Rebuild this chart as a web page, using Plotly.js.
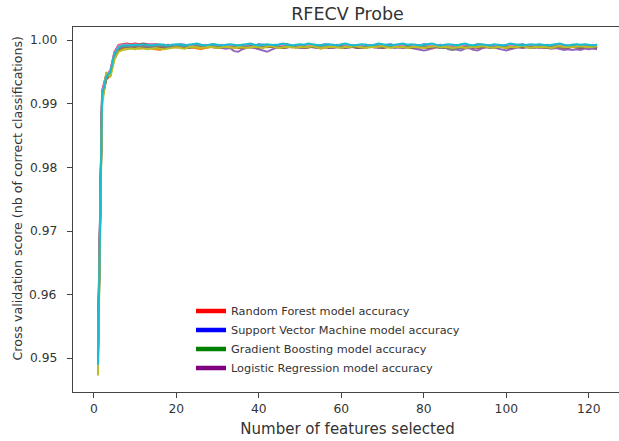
<!DOCTYPE html>
<html>
<head>
<meta charset="utf-8">
<script src="https://cdn.plot.ly/plotly-3.0.1.min.js"></script>
<style>
html, body { margin: 0; padding: 0; overflow: hidden; background: #fff; }
#chart { width: 625px; height: 441px; }
</style>
</head>
<body>
<div id="chart"></div>
<script>
const features = [1,2,3,4,5,6,7,8,9,10,11,12,13,14,15,16,17,18,19,20,
21,22,23,24,25,26,27,28,29,30,31,32,33,34,35,36,37,38,39,40,
41,42,43,44,45,46,47,48,49,50,51,52,53,54,55,56,57,58,59,60,
61,62,63,64,65,66,67,68,69,70,71,72,73,74,75,76,77,78,79,80,
81,82,83,84,85,86,87,88,89,90,91,92,93,94,95,96,97,98,99,100,
101,102,103,104,105,106,107,108,109,110,111,112,113,114,115,116,117,118,119,120,121,122];

const fold0 = [0.9530,0.9915,0.9940,0.9950,0.9978,0.9988,0.9991,
0.9992,0.9993,0.9992,0.9991,0.9993,0.9992,0.9994,0.9993,0.9992,0.9993,
0.9991,0.9992,0.9993,0.9994,0.9993,0.9992,0.9991,0.9992,0.9993,0.9992,
0.9993,0.9994,0.9992,0.9991,0.9992,0.9993,0.9992,0.9990,0.9991,0.9992,
0.9993,0.9992,0.9994,0.9993,0.9992,0.9991,0.9993,0.9992,0.9993,0.9994,
0.9992,0.9991,0.9992,0.9993,0.9992,0.9993,0.9991,0.9992,0.9994,0.9993,
0.9992,0.9993,0.9991,0.9992,0.9993,0.9992,0.9990,0.9991,0.9993,0.9992,
0.9993,0.9992,0.9991,0.9993,0.9994,0.9992,0.9993,0.9992,0.9991,0.9992,
0.9993,0.9992,0.9994,0.9993,0.9991,0.9992,0.9993,0.9992,0.9991,0.9993,
0.9992,0.9993,0.9992,0.9991,0.9992,0.9994,0.9993,0.9992,0.9991,0.9992,
0.9993,0.9992,0.9991,0.9993,0.9992,0.9993,0.9994,0.9992,0.9991,0.9992,
0.9993,0.9992,0.9993,0.9991,0.9992,0.9993,0.9992,0.9991,0.9992,0.9993,
0.9992,0.9993,0.9991,0.9992,0.9993];

const fold1 = [0.9498,0.9905,0.9938,0.9945,0.9972,0.9984,0.9988,
0.9989,0.9988,0.9989,0.9987,0.9988,0.9989,0.9987,0.9986,0.9985,0.9987,
0.9988,0.9989,0.9990,0.9989,0.9988,0.9990,0.9989,0.9988,0.9986,0.9988,
0.9989,0.9990,0.9989,0.9988,0.9990,0.9991,0.9989,0.9988,0.9989,0.9990,
0.9989,0.9988,0.9990,0.9989,0.9991,0.9990,0.9989,0.9988,0.9990,0.9989,
0.9990,0.9991,0.9989,0.9988,0.9989,0.9990,0.9989,0.9987,0.9989,0.9990,
0.9991,0.9989,0.9990,0.9988,0.9989,0.9990,0.9991,0.9989,0.9988,0.9990,
0.9989,0.9990,0.9988,0.9989,0.9991,0.9990,0.9989,0.9988,0.9989,0.9990,
0.9989,0.9988,0.9990,0.9989,0.9987,0.9989,0.9990,0.9991,0.9989,0.9988,
0.9990,0.9989,0.9988,0.9990,0.9991,0.9989,0.9988,0.9989,0.9990,0.9989,
0.9988,0.9990,0.9989,0.9991,0.9990,0.9989,0.9988,0.9990,0.9989,0.9990,
0.9989,0.9988,0.9990,0.9989,0.9991,0.9989,0.9988,0.9989,0.9990,0.9989,
0.9990,0.9989,0.9988,0.9989,0.9990];

const fold2 = [0.9512,0.9912,0.9942,0.9948,0.9975,0.9987,0.9990,
0.9990,0.9991,0.9990,0.9992,0.9991,0.9990,0.9991,0.9992,0.9991,0.9990,
0.9991,0.9992,0.9991,0.9990,0.9992,0.9991,0.9993,0.9991,0.9990,0.9991,
0.9992,0.9991,0.9990,0.9991,0.9992,0.9991,0.9990,0.9992,0.9993,0.9991,
0.9990,0.9991,0.9992,0.9991,0.9990,0.9992,0.9991,0.9990,0.9991,0.9992,
0.9991,0.9990,0.9992,0.9991,0.9993,0.9991,0.9990,0.9991,0.9992,0.9991,
0.9990,0.9992,0.9991,0.9990,0.9991,0.9992,0.9991,0.9993,0.9991,0.9990,
0.9991,0.9992,0.9990,0.9991,0.9992,0.9991,0.9990,0.9992,0.9991,0.9993,
0.9991,0.9990,0.9991,0.9992,0.9991,0.9990,0.9992,0.9991,0.9990,0.9991,
0.9992,0.9991,0.9993,0.9991,0.9990,0.9991,0.9992,0.9991,0.9990,0.9992,
0.9991,0.9990,0.9991,0.9992,0.9991,0.9993,0.9991,0.9990,0.9991,0.9992,
0.9991,0.9990,0.9992,0.9991,0.9990,0.9991,0.9992,0.9991,0.9993,0.9991,
0.9990,0.9991,0.9992,0.9991,0.9990];

const fold3 = [0.9505,0.9920,0.9946,0.9952,0.9982,0.9993,0.9994,
0.9995,0.9994,0.9995,0.9994,0.9995,0.9994,0.9993,0.9994,0.9993,0.9992,
0.9993,0.9992,0.9991,0.9992,0.9991,0.9990,0.9991,0.9992,0.9991,0.9990,
0.9991,0.9990,0.9991,0.9992,0.9990,0.9989,0.9990,0.9991,0.9990,0.9991,
0.9990,0.9989,0.9991,0.9990,0.9991,0.9990,0.9989,0.9990,0.9991,0.9990,
0.9989,0.9990,0.9991,0.9990,0.9989,0.9990,0.9991,0.9990,0.9989,0.9990,
0.9991,0.9990,0.9989,0.9990,0.9991,0.9990,0.9988,0.9990,0.9991,0.9990,
0.9989,0.9990,0.9991,0.9990,0.9989,0.9990,0.9991,0.9989,0.9990,0.9991,
0.9990,0.9989,0.9990,0.9988,0.9990,0.9991,0.9990,0.9989,0.9990,0.9988,
0.9989,0.9990,0.9991,0.9990,0.9988,0.9990,0.9989,0.9990,0.9991,0.9990,
0.9989,0.9990,0.9988,0.9990,0.9991,0.9990,0.9989,0.9990,0.9991,0.9989,
0.9990,0.9991,0.9990,0.9989,0.9988,0.9990,0.9989,0.9988,0.9990,0.9989,
0.9988,0.9989,0.9988,0.9989,0.9988];

const fold4 = [0.9495,0.9910,0.9941,0.9949,0.9979,0.9990,0.9991,
0.9991,0.9990,0.9991,0.9990,0.9989,0.9990,0.9991,0.9990,0.9989,0.9990,
0.9991,0.9990,0.9989,0.9990,0.9991,0.9990,0.9989,0.9990,0.9989,0.9990,
0.9991,0.9989,0.9990,0.9988,0.9987,0.9988,0.9983,0.9982,0.9986,0.9988,
0.9989,0.9988,0.9986,0.9983,0.9982,0.9985,0.9988,0.9989,0.9988,0.9989,
0.9990,0.9989,0.9988,0.9989,0.9990,0.9989,0.9988,0.9989,0.9990,0.9989,
0.9988,0.9989,0.9990,0.9988,0.9989,0.9990,0.9989,0.9988,0.9989,0.9990,
0.9989,0.9988,0.9989,0.9990,0.9989,0.9988,0.9989,0.9988,0.9989,0.9988,
0.9987,0.9985,0.9984,0.9985,0.9988,0.9989,0.9988,0.9989,0.9988,0.9986,
0.9985,0.9984,0.9987,0.9988,0.9985,0.9984,0.9987,0.9989,0.9988,0.9989,
0.9987,0.9985,0.9984,0.9986,0.9988,0.9989,0.9988,0.9989,0.9988,0.9989,
0.9988,0.9989,0.9988,0.9987,0.9988,0.9986,0.9985,0.9986,0.9985,0.9986,
0.9985,0.9987,0.9986,0.9987,0.9986];

const fold5 = [0.9508,0.9908,0.9939,0.9946,0.9976,0.9986,0.9989,
0.9989,0.9990,0.9989,0.9990,0.9991,0.9990,0.9989,0.9990,0.9989,0.9988,
0.9989,0.9990,0.9989,0.9990,0.9989,0.9988,0.9989,0.9990,0.9991,0.9989,
0.9990,0.9989,0.9988,0.9989,0.9990,0.9989,0.9990,0.9989,0.9988,0.9989,
0.9990,0.9989,0.9988,0.9990,0.9989,0.9990,0.9991,0.9989,0.9988,0.9989,
0.9990,0.9989,0.9990,0.9988,0.9989,0.9990,0.9989,0.9990,0.9989,0.9988,
0.9989,0.9990,0.9988,0.9989,0.9990,0.9989,0.9988,0.9989,0.9990,0.9989,
0.9990,0.9989,0.9988,0.9989,0.9990,0.9991,0.9989,0.9990,0.9989,0.9988,
0.9989,0.9990,0.9989,0.9988,0.9989,0.9990,0.9989,0.9988,0.9989,0.9990,
0.9989,0.9988,0.9990,0.9989,0.9990,0.9988,0.9989,0.9990,0.9989,0.9988,
0.9989,0.9990,0.9989,0.9988,0.9989,0.9990,0.9989,0.9990,0.9988,0.9989,
0.9990,0.9989,0.9988,0.9989,0.9990,0.9989,0.9988,0.9989,0.9990,0.9989,
0.9988,0.9989,0.9990,0.9989,0.9988];

const fold6 = [0.9520,0.9918,0.9945,0.9953,0.9981,0.9992,0.9993,
0.9994,0.9993,0.9994,0.9993,0.9992,0.9993,0.9994,0.9993,0.9992,0.9993,
0.9992,0.9993,0.9992,0.9991,0.9992,0.9993,0.9992,0.9991,0.9992,0.9993,
0.9992,0.9991,0.9992,0.9993,0.9992,0.9991,0.9992,0.9991,0.9992,0.9993,
0.9992,0.9991,0.9992,0.9993,0.9991,0.9992,0.9991,0.9992,0.9993,0.9992,
0.9991,0.9992,0.9991,0.9992,0.9993,0.9992,0.9991,0.9992,0.9991,0.9992,
0.9993,0.9992,0.9991,0.9992,0.9993,0.9991,0.9992,0.9991,0.9992,0.9993,
0.9992,0.9991,0.9992,0.9991,0.9992,0.9993,0.9992,0.9991,0.9992,0.9991,
0.9992,0.9993,0.9991,0.9992,0.9991,0.9992,0.9993,0.9992,0.9991,0.9992,
0.9991,0.9992,0.9993,0.9992,0.9991,0.9992,0.9991,0.9992,0.9993,0.9991,
0.9992,0.9991,0.9992,0.9993,0.9992,0.9991,0.9992,0.9991,0.9992,0.9993,
0.9992,0.9991,0.9992,0.9991,0.9992,0.9993,0.9992,0.9991,0.9992,0.9991,
0.9992,0.9991,0.9992,0.9993,0.9992];

const fold7 = [0.9502,0.9911,0.9940,0.9948,0.9977,0.9987,0.9990,
0.9990,0.9991,0.9990,0.9989,0.9991,0.9990,0.9989,0.9990,0.9991,0.9990,
0.9989,0.9990,0.9991,0.9992,0.9990,0.9989,0.9990,0.9991,0.9990,0.9989,
0.9990,0.9991,0.9990,0.9989,0.9990,0.9988,0.9989,0.9990,0.9991,0.9990,
0.9991,0.9990,0.9989,0.9990,0.9991,0.9992,0.9990,0.9989,0.9990,0.9991,
0.9990,0.9989,0.9991,0.9990,0.9989,0.9990,0.9991,0.9990,0.9992,0.9990,
0.9989,0.9990,0.9991,0.9990,0.9989,0.9991,0.9990,0.9989,0.9990,0.9991,
0.9990,0.9991,0.9989,0.9990,0.9991,0.9990,0.9989,0.9990,0.9991,0.9990,
0.9989,0.9990,0.9991,0.9990,0.9989,0.9990,0.9988,0.9989,0.9986,0.9985,
0.9987,0.9989,0.9990,0.9991,0.9990,0.9989,0.9990,0.9991,0.9990,0.9989,
0.9990,0.9991,0.9990,0.9989,0.9990,0.9991,0.9992,0.9990,0.9989,0.9990,
0.9991,0.9990,0.9989,0.9990,0.9991,0.9990,0.9989,0.9990,0.9991,0.9990,
0.9989,0.9990,0.9991,0.9990,0.9989];

const fold8 = [0.9473,0.9895,0.9950,0.9942,0.9970,0.9982,0.9985,
0.9986,0.9987,0.9986,0.9988,0.9987,0.9986,0.9987,0.9988,0.9987,0.9986,
0.9987,0.9988,0.9989,0.9988,0.9987,0.9989,0.9990,0.9989,0.9988,0.9989,
0.9990,0.9989,0.9988,0.9989,0.9990,0.9989,0.9988,0.9990,0.9989,0.9988,
0.9989,0.9990,0.9989,0.9988,0.9990,0.9991,0.9989,0.9988,0.9989,0.9990,
0.9989,0.9988,0.9990,0.9989,0.9990,0.9991,0.9989,0.9988,0.9989,0.9990,
0.9990,0.9989,0.9988,0.9990,0.9989,0.9991,0.9990,0.9989,0.9988,0.9990,
0.9989,0.9990,0.9991,0.9989,0.9988,0.9990,0.9989,0.9990,0.9988,0.9989,
0.9990,0.9989,0.9988,0.9989,0.9990,0.9991,0.9989,0.9990,0.9989,0.9988,
0.9989,0.9990,0.9988,0.9989,0.9990,0.9989,0.9991,0.9990,0.9989,0.9988,
0.9990,0.9989,0.9988,0.9990,0.9989,0.9990,0.9991,0.9989,0.9988,0.9990,
0.9989,0.9990,0.9989,0.9988,0.9990,0.9991,0.9989,0.9990,0.9989,0.9990,
0.9991,0.9990,0.9989,0.9990,0.9991];

const fold9 = [0.9490,0.9913,0.9943,0.9950,0.9979,0.9989,0.9992,
0.9992,0.9993,0.9992,0.9993,0.9994,0.9993,0.9992,0.9993,0.9994,0.9993,
0.9992,0.9993,0.9994,0.9993,0.9992,0.9993,0.9994,0.9995,0.9993,0.9992,
0.9993,0.9994,0.9993,0.9992,0.9993,0.9994,0.9993,0.9992,0.9993,0.9994,
0.9995,0.9993,0.9992,0.9993,0.9994,0.9993,0.9992,0.9994,0.9995,0.9993,
0.9992,0.9993,0.9994,0.9993,0.9995,0.9994,0.9993,0.9992,0.9993,0.9994,
0.9993,0.9992,0.9994,0.9995,0.9993,0.9992,0.9993,0.9994,0.9993,0.9992,
0.9993,0.9995,0.9994,0.9993,0.9992,0.9993,0.9994,0.9995,0.9993,0.9994,
0.9993,0.9992,0.9993,0.9994,0.9995,0.9993,0.9992,0.9993,0.9994,0.9993,
0.9992,0.9994,0.9995,0.9993,0.9992,0.9993,0.9994,0.9993,0.9992,0.9994,
0.9993,0.9992,0.9993,0.9995,0.9994,0.9993,0.9992,0.9993,0.9994,0.9993,
0.9994,0.9993,0.9992,0.9993,0.9994,0.9995,0.9993,0.9992,0.9993,0.9994,
0.9993,0.9994,0.9993,0.9992,0.9993];

const foldSeries = [fold0, fold1, fold2, fold3, fold4, fold5, fold6, fold7, fold8, fold9];
const foldColors = ['#1f77b4','#ff7f0e','#2ca02c','#d62728','#9467bd','#8c564b','#e377c2','#7f7f7f','#bcbd22','#17becf'];

const legendLabels = ['Random Forest model accuracy','Support Vector Machine model accuracy','Gradient Boosting model accuracy','Logistic Regression model accuracy'];
const legendColors = ['red','blue','green','purple'];

const yTickVals = [0.95, 0.96, 0.97, 0.98, 0.99, 1.00];
const yTickText = ['0.95','0.96','0.97','0.98','0.99','1.00'];
const xTickVals = [0, 20, 40, 60, 80, 100, 120];
const yLabel = 'Cross validation score (nb of correct classifications)';

const traces = [];
foldSeries.forEach((s, i) => {
  traces.push({
    x: features, y: s, type: 'scatter', mode: 'lines',
    line: {color: foldColors[i], width: 2},
    showlegend: false, hoverinfo: 'skip'
  });
});
legendLabels.forEach((name, i) => {
  traces.push({
    x: [null], y: [null], type: 'scatter', mode: 'lines', name: name,
    line: {color: legendColors[i], width: 4.5}, showlegend: true
  });
});

const fontFam = 'DejaVu Sans, sans-serif';
const tickFont = {family: fontFam, size: 12.3, color: '#333'};

const annotations = [{
  text: yLabel, textangle: -90, showarrow: false,
  xref: 'paper', yref: 'paper', x: (17 - 73) / 549, y: (392 - 198.5) / 365,
  xanchor: 'center', yanchor: 'middle',
  font: {family: fontFam, size: 12.6, color: '#333'}
}];
yTickVals.forEach((v, i) => {
  annotations.push({
    text: yTickText[i], showarrow: false,
    xref: 'paper', yref: 'y', x: 0, y: v, xshift: -14,
    xanchor: 'right', yanchor: 'middle', font: tickFont
  });
});

const layout = {
  width: 625, height: 441,
  margin: {l: 73, r: 3, t: 27, b: 49},
  paper_bgcolor: '#fff', plot_bgcolor: '#fff',
  font: {family: fontFam, color: '#333', size: 12},
  title: {text: 'RFECV Probe', font: {family: fontFam, size: 17.5, color: '#333'},
          x: 0.5, xref: 'paper', y: 1 - 14/441, yref: 'container', yanchor: 'middle'},
  xaxis: {
    range: [-5.05, 128.05], tickvals: xTickVals, ticktext: xTickVals.map(String),
    showgrid: false, zeroline: false, showline: true, mirror: true,
    linecolor: '#444', linewidth: 1, ticks: 'outside', ticklen: 5, tickcolor: '#444',
    tickfont: tickFont,
    title: {text: 'Number of features selected', font: {family: fontFam, size: 15, color: '#333'}, standoff: 8}
  },
  yaxis: {
    range: [0.9447, 1.0021], tickvals: yTickVals, showticklabels: false,
    showgrid: false, zeroline: false, showline: true, mirror: true,
    linecolor: '#444', linewidth: 1, ticks: 'outside', ticklen: 5, tickcolor: '#444'
  },
  annotations: annotations,
  legend: {
    x: (191 - 73) / 549, y: (392 - 296.5) / 365, xanchor: 'left', yanchor: 'top',
    bgcolor: 'rgba(0,0,0,0)', borderwidth: 0,
    font: {family: fontFam, size: 11.3, color: '#333'}
  },
  showlegend: true
};

Plotly.newPlot('chart', traces, layout, {displayModeBar: false, staticPlot: true});
</script>
</body>
</html>
